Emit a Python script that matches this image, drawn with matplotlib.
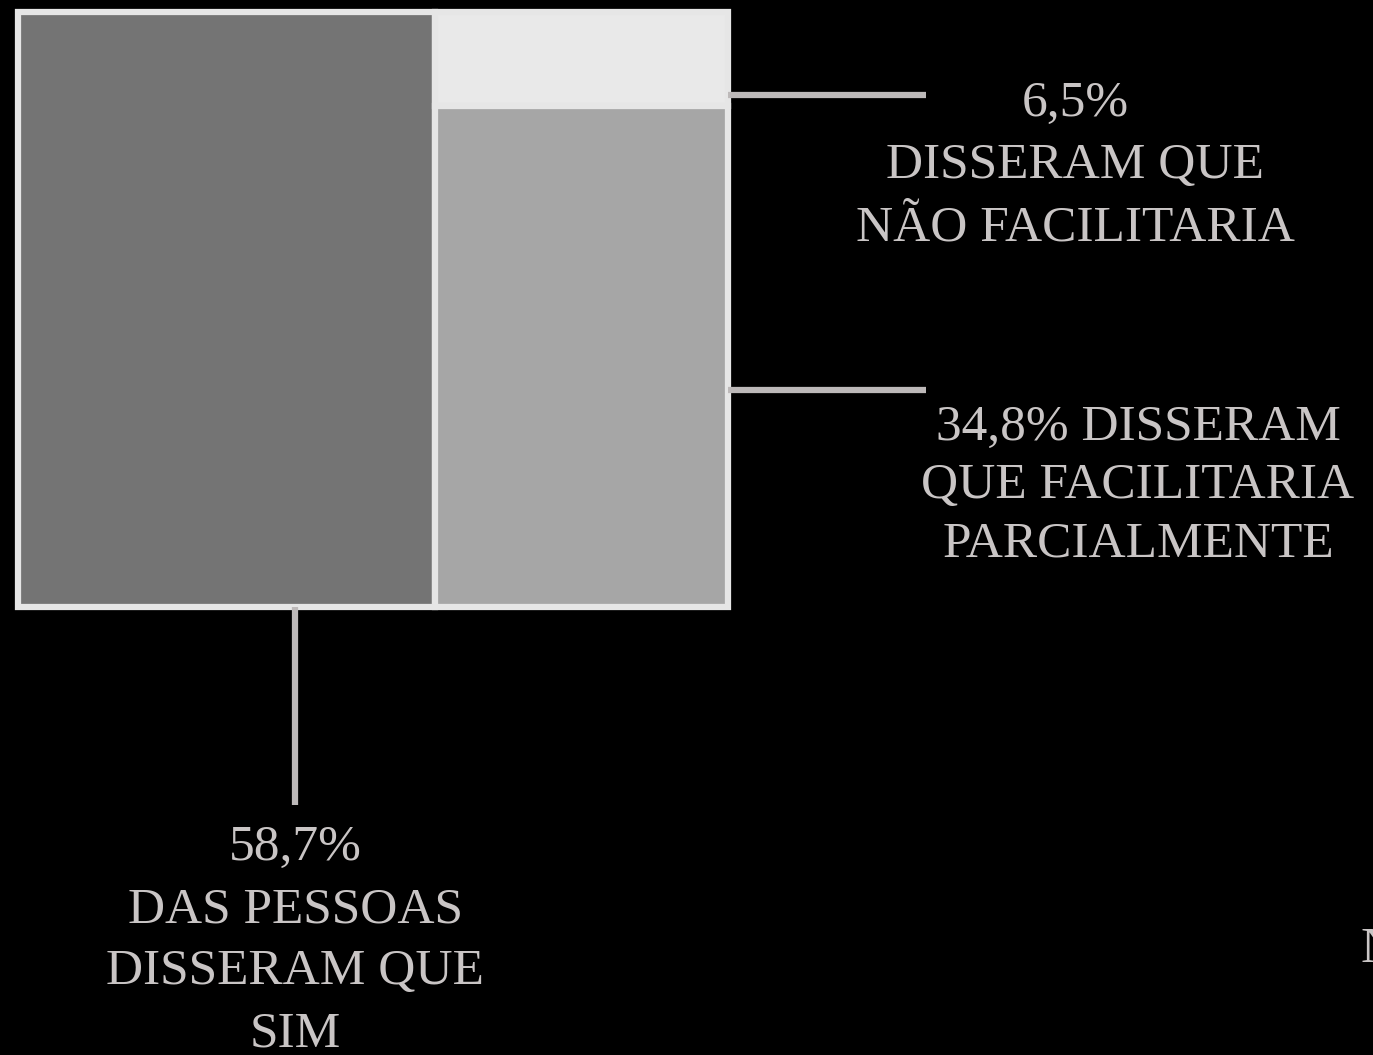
"""Treemap of answers: would it make things easier?"""

import matplotlib

matplotlib.use("Agg")
import matplotlib.pyplot as plt
from matplotlib.patches import Rectangle

# data
categories = ["Sim", "Não facilitaria", "Facilitaria parcialmente"]
values = [58.7, 6.5, 34.8]
fills = ["#747474", "#e9e9e9", "#a6a6a6"]

labels = [
    ["58,7%", "DAS PESSOAS", "DISSERAM QUE", "SIM"],
    ["6,5%", "DISSERAM QUE", "NÃO FACILITARIA"],
    ["34,8% DISSERAM", "QUE FACILITARIA", "PARCIALMENTE"],
]

BG = "#000000"
EDGE = "#e6e6e6"
TEXT = "#c9c5c5"
LINE = "#bdb9b9"
FONT = ["Liberation Serif", "DejaVu Serif"]

# layout box of the treemap, in pixel coordinates
X0, Y0, X1, Y1 = 18, 12, 728, 607


def treemap_rects(vals):
    """First value takes a full-height column, the rest stack on the right."""
    total = sum(vals)
    width = X1 - X0
    height = Y1 - Y0
    w_left = width * vals[0] / total
    rects = [(X0, Y0, w_left, height)]
    rest = sum(vals[1:])
    y = Y0
    for v in vals[1:]:
        h = height * v / rest
        rects.append((X0 + w_left, y, width - w_left, h))
        y += h
    return rects


fig = plt.figure(figsize=(13.73, 10.55), dpi=100, facecolor=BG)
ax = fig.add_axes([0, 0, 1, 1])
ax.set_facecolor(BG)
ax.set_xlim(0, 1373)
ax.set_ylim(1055, 0)
ax.axis("off")

for (x, y, w, h), color in zip(treemap_rects(values), fills):
    ax.add_patch(Rectangle((x, y), w, h, facecolor=color, edgecolor=EDGE, linewidth=4.5))

# connectors
ax.plot([X1, 926], [95, 95], color=LINE, linewidth=4.5, solid_capstyle="butt")
ax.plot([X1, 926], [390, 390], color=LINE, linewidth=4.5, solid_capstyle="butt")
ax.plot([295, 295], [Y1, 805], color=LINE, linewidth=4.5, solid_capstyle="butt")


def draw_label(lines, cx, y_first, step):
    for i, line in enumerate(lines):
        ax.text(cx, y_first + i * step, line, color=TEXT, family=FONT,
                fontsize=37, ha="center", va="center")


draw_label(labels[0], 295, 848, 62)
draw_label(labels[1], 1075, 104, 62)
draw_label(labels[2], 1138, 428, 58)

# partially visible label at the right edge
ax.text(1361, 950, "N", color=TEXT, family=FONT, fontsize=37, ha="left", va="center")

fig.savefig("out.png", dpi=100, facecolor=BG)
